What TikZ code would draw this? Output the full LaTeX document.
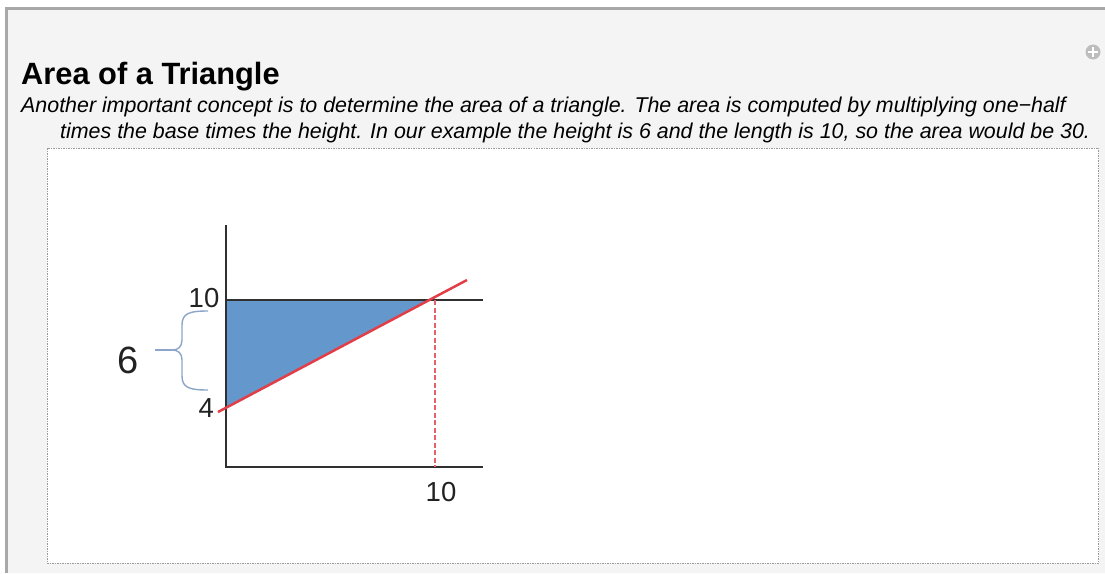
\documentclass[tikz,border=0pt]{standalone}
\usepackage{fontspec}
\setmainfont{Liberation Sans}
\definecolor{pagebg}{HTML}{F4F4F4}
\definecolor{framegray}{HTML}{A8A8A8}
\definecolor{dashgray}{HTML}{9A9A9A}
\definecolor{axisgray}{HTML}{303030}
\definecolor{triblue}{RGB}{100,152,204}
\definecolor{redline}{RGB}{226,62,72}
\definecolor{reddash}{RGB}{230,96,104}
\definecolor{bracecol}{RGB}{140,165,200}
\definecolor{icongray}{HTML}{BDBDBD}
\begin{document}
\begin{tikzpicture}[x=1pt,y=-1pt,
  axisline/.style={draw=axisgray,line width=2.8pt},
  tick/.style={font=\fontsize{27.5}{28}\selectfont,inner sep=0pt,text=axisgray!70!black},
  capline/.style={font=\fontsize{21.4}{22}\selectfont\itshape,inner sep=0pt,anchor=base west},
]
\useasboundingbox (0,0) rectangle (1105,573);
\fill[white] (0,0) rectangle (1105,573);
\fill[pagebg] (5,7) rectangle (1105,573);
\draw[framegray,line width=2.5pt] (6.25,573) -- (6.25,8.25) -- (1105,8.25);
% plus icon
\fill[icongray] (1093,52) circle (7.5);
\draw[white,line width=2.6pt] (1088.3,52) -- (1097.7,52) (1093,47.3) -- (1093,56.7);
% title and caption
\node[inner sep=0pt,anchor=base west,font=\fontsize{30.8}{31}\selectfont\bfseries] (title) at (21,84) {Area of a Triangle};
\node[capline] (cap1) at (21,112.5) {Another important concept is to determine the area of a triangle. The area is computed by multiplying one−half};
\node[capline] (cap2) at (60,138.5) {times the base times the height. In our example the height is 6 and the length is 10, so the area would be 30.};
% dashed frame
\filldraw[fill=white,draw=dashgray,line width=0.8pt,dash pattern=on 1.5pt off 1pt] (47,148) rectangle (1098.5,563);
% diagram coordinates
\coordinate (O) at (226,467);
\coordinate (Ytop) at (226,225);
\coordinate (Xend) at (483,467);
\coordinate (Y10) at (226,300);
\coordinate (H10end) at (483,300);
\coordinate (Rs) at (218,412);
\coordinate (Re) at (467,280);
\coordinate (Dtop) at (435,300);
\coordinate (Dbot) at (435,467);
% triangle
\fill[triblue] (227,300) -- (431,300) -- (227,407.2) -- cycle;
% axes
\draw[axisline] (Ytop) -- (O) -- (Xend);
\draw[axisline] (Y10) -- (H10end);
% red lines
\draw[reddash,line width=2.6pt,dash pattern=on 5pt off 2.5pt] (Dtop) -- (Dbot);
\draw[redline,line width=2.5pt] (Rs) -- (Re);
% labels
\node[tick,anchor=east] (l10) at (219.5,298) {10};
\node[tick,anchor=east] (l4) at (214,408) {4};
\node[tick] (b10) at (441,492.5) {10};
\node[inner sep=0pt,font=\fontsize{38}{38}\selectfont,text=axisgray!70!black] (six) at (128,360) {6};
% brace
\coordinate (bt) at (208,311);
\coordinate (bb) at (208,390);
\coordinate (bm) at (172,350);
\coordinate (bl) at (155,350);
\draw[bracecol,line width=1.4pt]
  (bt) .. controls (190,311) and (182,313) .. (182,325)
  -- (182,340) .. controls (182,347) and (178,350) .. (bm)
  .. controls (178,350) and (182,353) .. (182,360)
  -- (182,376) .. controls (182,388) and (190,390) .. (bb);
\draw[bracecol,line width=1.4pt] (bm) -- (bl);
\end{tikzpicture}
\end{document}
